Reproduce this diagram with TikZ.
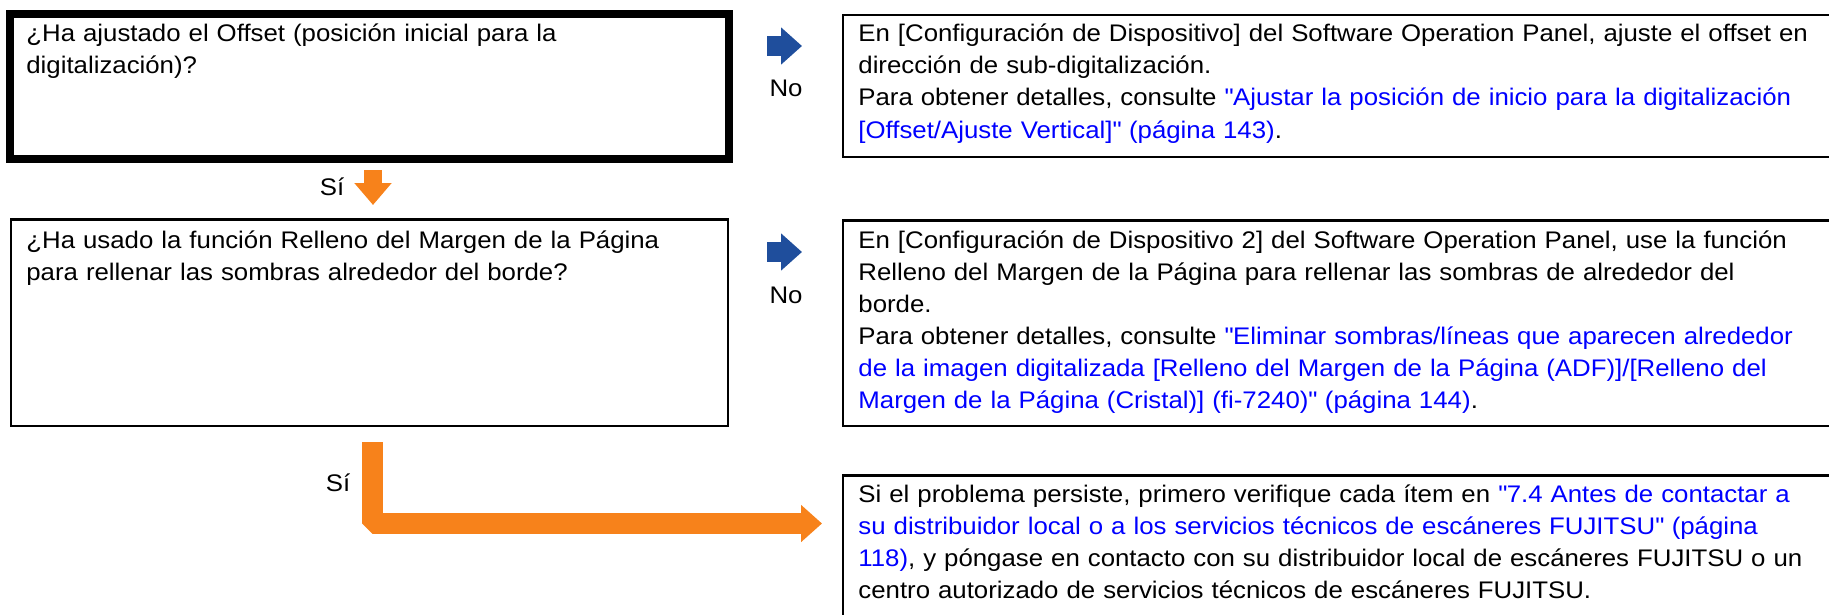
\documentclass[tikz,border=0pt]{standalone}
\usepackage{fontspec}
\setmainfont[FakeStretch=1.075]{Liberation Sans}
\usetikzlibrary{arrows.meta,positioning,calc}
\definecolor{flowblue}{HTML}{1F4E9C}
\definecolor{floworange}{HTML}{F7821B}
\definecolor{linkblue}{HTML}{0000FF}
\newcommand{\lnk}[1]{\textcolor{linkblue}{#1}}
\newcommand{\qt}{\textquotedbl}

\begin{document}
\begin{tikzpicture}[x=0.5pt, y=-0.5pt,
    qbox/.style={draw, line width=1.25pt, inner sep=0pt, outer sep=0pt, anchor=north west},
    abox/.style={qbox, minimum width=498.5pt},
    txt/.style={anchor=base west, inner sep=0pt, text width=520pt, align=left,
                font=\fontsize{12}{16}\selectfont},
    lbl/.style={anchor=base, inner sep=0pt, font=\fontsize{12}{16}\selectfont},
    noarrow/.style={flowblue, line width=10pt, -{Triangle[width=18pt, length=10.5pt]}},
    siarrow/.style={floworange, line width=9pt, -{Triangle[width=18pt, length=11pt]}}
  ]
  \useasboundingbox (0,0) rectangle (1829,615);

  % questions
  \node[qbox, line width=4pt, minimum width=359.5pt, minimum height=72.5pt] (q1) at (10,14) {};
  \node[qbox, minimum width=358.5pt, minimum height=103.25pt] (q2) at (11,219.25) {};
  \node[txt] (q1t) at (26,42) {¿Ha ajustado el Offset (posición inicial para la\\
    digitalización)?};
  \node[txt] (q2t) at (26,248) {¿Ha usado la función Relleno del Margen de la Página\\
    para rellenar las sombras alrededor del borde?};

  % answers
  \node[abox, minimum height=70.75pt] (a1) at (843,15.25) {};
  \node[abox, minimum height=102.75pt] (a2) at (843,220.25) {};
  \node[abox, minimum height=80pt] (a3) at (843,475.25) {};
  \node[txt] (a1t) at (858,42) {En [Configuración de Dispositivo] del Software Operation Panel, ajuste el offset en\\
    dirección de sub-digitalización.\\
    Para obtener detalles, consulte \lnk{\qt Ajustar la posición de inicio para la digitalización}\\
    \lnk{[Offset/Ajuste Vertical]\qt{} (página 143)}.};
  \node[txt] (a2t) at (858,248) {En [Configuración de Dispositivo 2] del Software Operation Panel, use la función\\
    Relleno del Margen de la Página para rellenar las sombras de alrededor del\\
    borde.\\
    Para obtener detalles, consulte \lnk{\qt Eliminar sombras/líneas que aparecen alrededor}\\
    \lnk{de la imagen digitalizada [Relleno del Margen de la Página (ADF)]/[Relleno del}\\
    \lnk{Margen de la Página (Cristal)] (fi-7240)\qt{} (página 144)}.};
  \node[txt] (a3t) at (858,502) {Si el problema persiste, primero verifique cada ítem en \lnk{\qt 7.4 Antes de contactar a}\\
    \lnk{su distribuidor local o a los servicios técnicos de escáneres FUJITSU\qt{} (página}\\
    \lnk{118)}, y póngase en contacto con su distribuidor local de escáneres FUJITSU o un\\
    centro autorizado de servicios técnicos de escáneres FUJITSU.};

  % arrows
  \coordinate (no1s) at (767,46);
  \coordinate (no1e) at (802,46);
  \coordinate (no2s) at (767,252);
  \coordinate (no2e) at (802,252);
  \coordinate (si1s) at (373,170);
  \coordinate (si1e) at (373,205);
  \coordinate (si2s) at (372.5,442);
  \coordinate (si2e) at (822,523.5);
  \draw[noarrow] (no1s) -- (no1e);
  \draw[noarrow] (no2s) -- (no2e);
  \draw[siarrow] (si1s) -- (si1e);
  \draw[siarrow, line width=10.5pt, line join=bevel,
        -{Triangle[width=18pt, length=10.5pt]}] (si2s) |- (si2e);

  \node[lbl] (no1) at (786,97) {No};
  \node[lbl] (no2) at (786,303) {No};
  \node[lbl] (si1) at (332,195) {Sí};
  \node[lbl] (si2) at (338,491) {Sí};
\end{tikzpicture}
\end{document}
